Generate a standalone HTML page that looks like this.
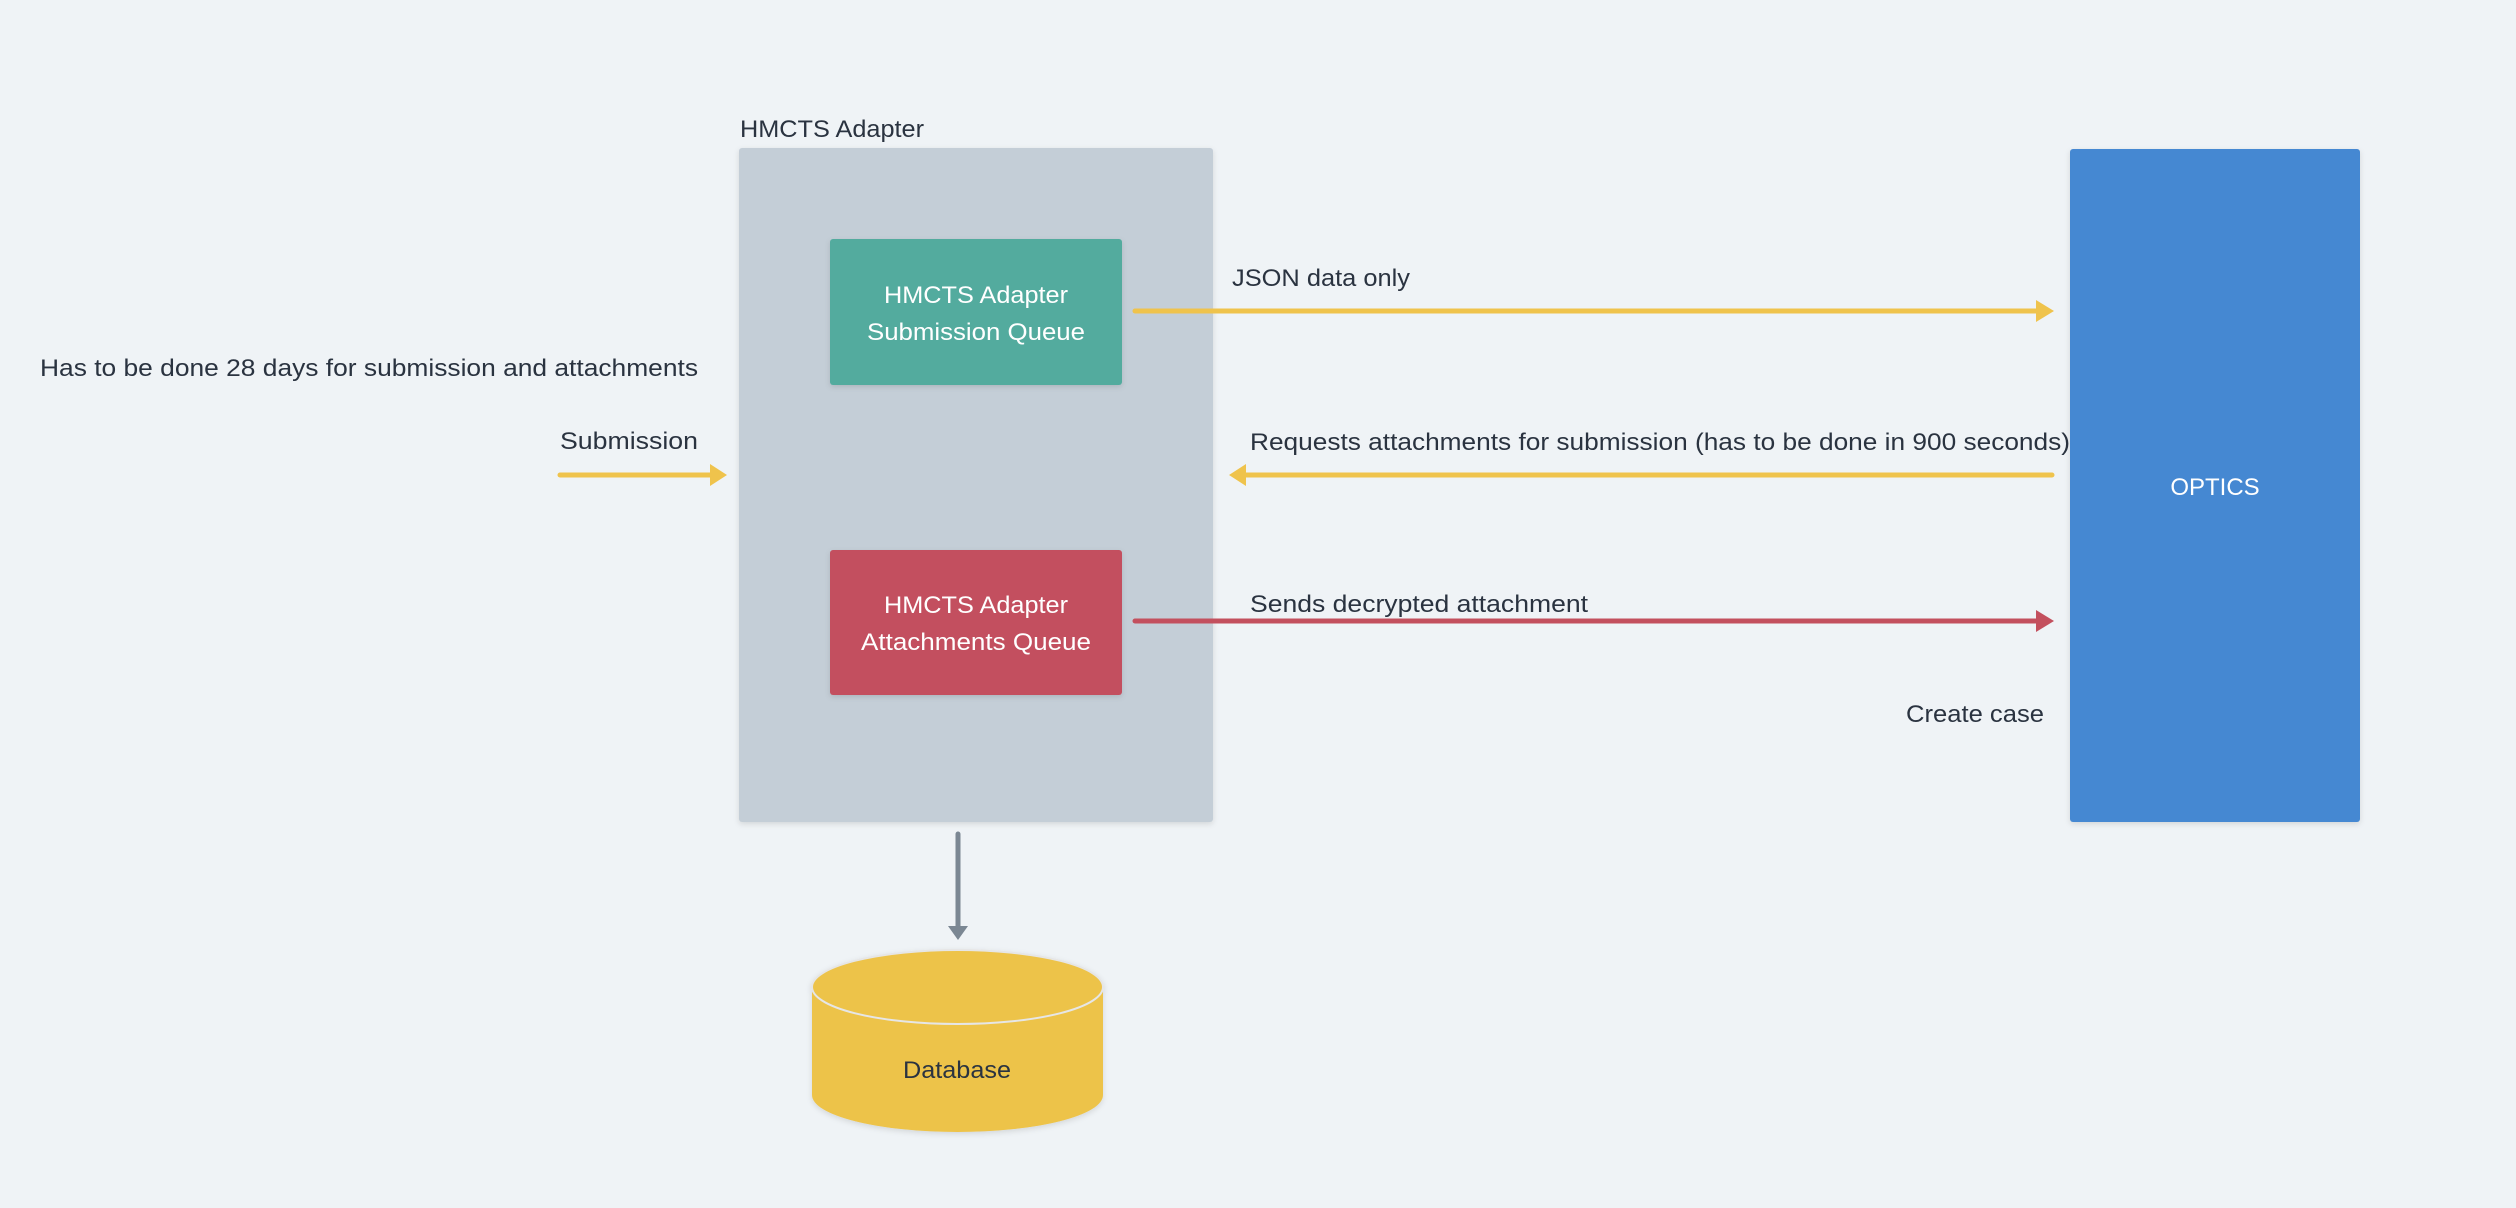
<!DOCTYPE html>
<html><head><meta charset="utf-8"><style>
html,body{margin:0;padding:0;background:#eff3f6;}
svg{display:block;}
text{font-family:"Liberation Sans",sans-serif;font-size:24px;fill:#2a3340;}
.w{fill:#fff;}
</style></head><body>
<svg width="2516" height="1208" viewBox="0 0 2516 1208">
<defs>
<filter id="sh" x="-10%" y="-10%" width="120%" height="120%"><feDropShadow dx="0" dy="2" stdDeviation="3" flood-color="#000" flood-opacity="0.12"/></filter>
</defs>
<rect width="2516" height="1208" fill="#eff3f6"/>
<text x="740" y="137" textLength="184" lengthAdjust="spacingAndGlyphs">HMCTS Adapter</text>
<rect x="739" y="148" width="474" height="674" rx="3" fill="#c4ced7" filter="url(#sh)"/>
<rect x="830" y="239" width="292" height="146" rx="3" fill="#52ab9e" filter="url(#sh)"/>
<text class="w" x="976" y="303" text-anchor="middle" textLength="184" lengthAdjust="spacingAndGlyphs">HMCTS Adapter</text>
<text class="w" x="976" y="340" text-anchor="middle" textLength="218" lengthAdjust="spacingAndGlyphs">Submission Queue</text>
<rect x="830" y="550" width="292" height="145" rx="3" fill="#c3505e" filter="url(#sh)"/>
<text class="w" x="976" y="613" text-anchor="middle" textLength="184" lengthAdjust="spacingAndGlyphs">HMCTS Adapter</text>
<text class="w" x="976" y="650" text-anchor="middle" textLength="230" lengthAdjust="spacingAndGlyphs">Attachments Queue</text>
<rect x="2070" y="149" width="290" height="673" rx="3" fill="#4588d2" filter="url(#sh)"/>
<text class="w" x="2215" y="495" text-anchor="middle">OPTICS</text>
<!-- arrows -->
<line x1="1135" y1="311" x2="2040" y2="311" stroke="#efc34c" stroke-width="5" stroke-linecap="round"/>
<polygon points="2036,300 2054,311 2036,322" fill="#efc34c"/>
<line x1="2052" y1="475" x2="1244" y2="475" stroke="#efc34c" stroke-width="5" stroke-linecap="round"/>
<polygon points="1246,464 1229,475 1246,486" fill="#efc34c"/>
<line x1="1135" y1="621" x2="2040" y2="621" stroke="#c3505e" stroke-width="5" stroke-linecap="round"/>
<polygon points="2036,610 2054,621 2036,632" fill="#c3505e"/>
<line x1="560" y1="475" x2="712" y2="475" stroke="#efc34c" stroke-width="5" stroke-linecap="round"/>
<polygon points="710,464 727,475 710,486" fill="#efc34c"/>
<line x1="958" y1="834" x2="958" y2="928" stroke="#7b8793" stroke-width="5" stroke-linecap="round"/>
<polygon points="948,926 968,926 958,940" fill="#7b8793"/>
<!-- labels -->
<text x="1232" y="286" textLength="178" lengthAdjust="spacingAndGlyphs">JSON data only</text>
<text x="1250" y="450" textLength="820" lengthAdjust="spacingAndGlyphs">Requests attachments for submission (has to be done in 900 seconds)</text>
<text x="1250" y="612" textLength="338" lengthAdjust="spacingAndGlyphs">Sends decrypted attachment</text>
<text x="560" y="449" textLength="138" lengthAdjust="spacingAndGlyphs">Submission</text>
<text x="40" y="376" textLength="658" lengthAdjust="spacingAndGlyphs">Has to be done 28 days for submission and attachments</text>
<text x="1906" y="722" textLength="138" lengthAdjust="spacingAndGlyphs">Create case</text>
<!-- database -->
<g filter="url(#sh)">
<path d="M812,987 L812,1095 A145.5,37 0 0 0 1103,1095 L1103,987 Z" fill="#edc34a"/>
<ellipse cx="957.5" cy="987" rx="145.5" ry="37" fill="#edc34a" stroke="#e6e6e6" stroke-width="2"/>
</g>
<text x="957" y="1078" text-anchor="middle" textLength="108" lengthAdjust="spacingAndGlyphs">Database</text>
</svg>
</body></html>
